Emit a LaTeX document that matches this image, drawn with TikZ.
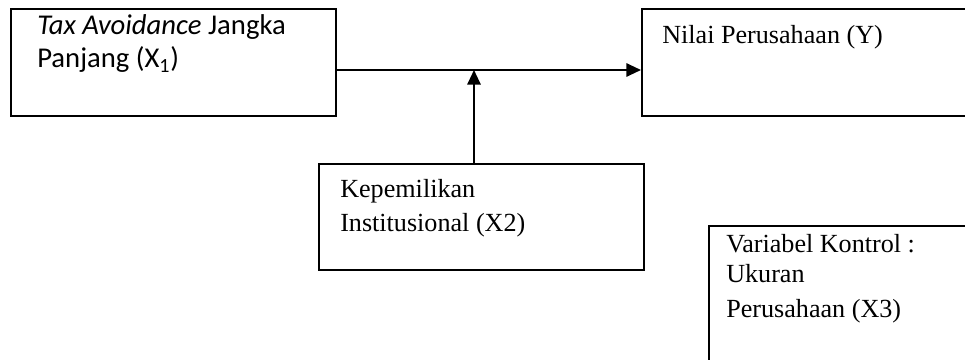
\documentclass[tikz,border=0pt]{standalone}
\usepackage{fontspec}
\setmainfont{Liberation Serif}
\newfontfamily\calibrifont{Carlito}
\usetikzlibrary{arrows.meta}

\tikzset{
  varbox/.style={draw, line width=1.5pt, anchor=north west, inner sep=0pt},
  serif/.style={anchor=base west, inner sep=0pt, font=\fontsize{19.6}{22}\selectfont},
  sans/.style={anchor=base west, inner sep=0pt, font=\calibrifont\fontsize{21.5}{24}\selectfont},
  arr/.style={line width=1.5pt, -{Triangle[length=11pt,width=10pt]}}
}

\begin{document}
\begin{tikzpicture}[x=0.75pt, y=-0.75pt]
\clip (0,0) rectangle (965,360);
\useasboundingbox (0,0) rectangle (965,360);

% boxes
\node[varbox, minimum width=243.75pt, minimum height=80.25pt] (x1) at (10,8) {};
\node[varbox, minimum width=300pt, minimum height=80.25pt] (y) at (641,8) {};
\node[varbox, minimum width=243.75pt, minimum height=79.5pt] (x2) at (318,163) {};
\node[varbox, minimum width=300pt, minimum height=150pt] (x3) at (708,225) {};

% texts
\node[sans] (x1a) at (37,35) {\textit{Tax Avoidance} Jangka};
\node[sans] (x1b) at (37,68) {Panjang (X\textsubscript{1})};
\node[serif] (ya) at (662,44) {Nilai Perusahaan (Y)};
\node[serif] (x2a) at (340,197) {Kepemilikan};
\node[serif] (x2b) at (340,231) {Institusional (X2)};
\node[serif] (x3a) at (726,252) {Variabel Kontrol :};
\node[serif] (x3b) at (726,282) {Ukuran};
\node[serif] (x3c) at (726,317) {Perusahaan (X3)};

% connectors
\coordinate (join) at (474,70);
\draw[arr] (x1.east |- join) -- (y.west |- join);
\draw[arr] (x2.north -| join) -- (join);
\end{tikzpicture}
\end{document}
